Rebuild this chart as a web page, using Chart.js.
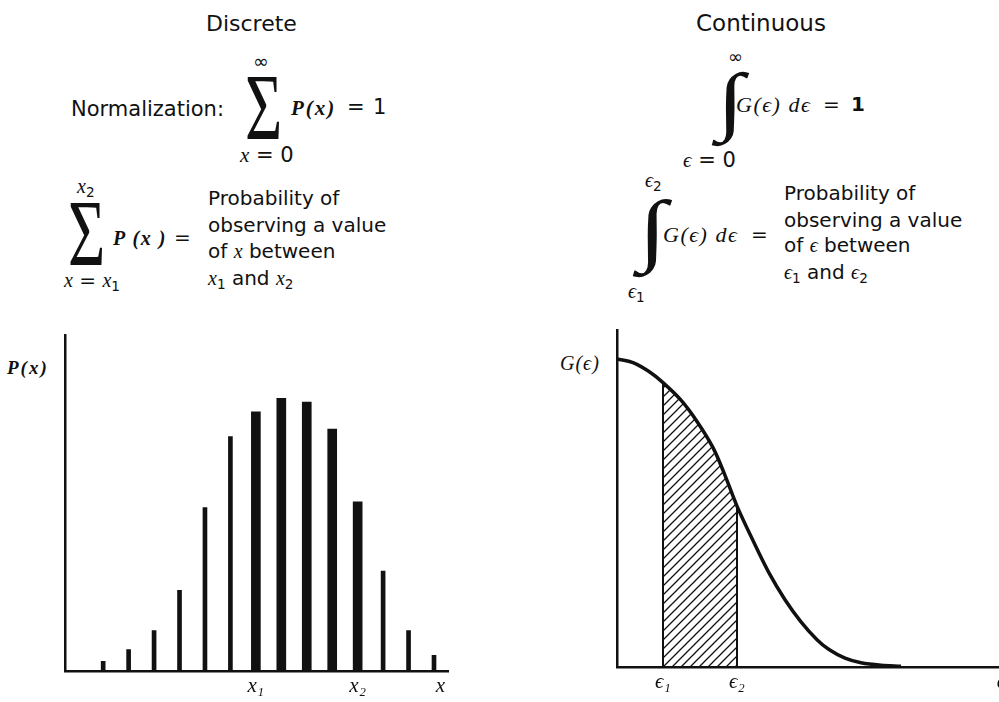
<!DOCTYPE html>
<html>
<head>
<meta charset="utf-8">
<title>Discrete and continuous distributions</title>
<script src="https://cdn.jsdelivr.net/npm/chart.js@4.4.1/dist/chart.umd.min.js"></script>
<style>
html, body { margin: 0; padding: 0; background: #fff; }
body { position: relative; width: 999px; height: 702px; overflow: hidden; font-family: "DejaVu Sans", sans-serif; color: #111; }
.t { position: absolute; white-space: nowrap; line-height: 1; font-size: 20px; }
.m { font-family: "Liberation Serif", "DejaVu Serif", serif; font-style: italic; }
.b { font-weight: bold; }
.sub { font-family: "DejaVu Sans", sans-serif; font-style: normal; font-weight: normal; font-size: 0.68em; position: relative; top: 0.3em; letter-spacing: 0; }
.sigma { font-family: "Liberation Serif", serif; font-size: 64px; transform: scaleY(1.5); transform-origin: 0 0; }
.integral { font-family: "Liberation Serif", serif; font-style: italic; font-weight: bold; transform: scaleX(1.3); transform-origin: 0 0; }
#left-box { position: absolute; left: 0; top: 325px; width: 470px; height: 377px; }
#right-box { position: absolute; left: 560px; top: 320px; width: 460px; height: 382px; }
</style>
</head>
<body>

<!-- 왼쪽: 이산 분포 -->
<div class="t" style="left:206px; top:13px; font-size:22px;">Discrete</div>
<div class="t" style="left:71px; top:99px; font-size:21px;">Normalization:</div>
<div class="t" style="left:253px; top:52px; font-size:19px;">∞</div>
<div class="t sigma" style="left:245px; top:60px;">Σ</div>
<div class="t m b" style="left:291px; top:98px; font-size:21px; letter-spacing:2px;">P(x)</div>
<div class="t" style="left:347px; top:97px; font-size:21px;">=</div>
<div class="t" style="left:373px; top:97px; font-size:21px;">1</div>
<div class="t" style="left:240px; top:145px; font-size:21px;"><span class="m">x</span> = 0</div>

<div class="t m" style="left:77px; top:176px;">x<span class="sub">2</span></div>
<div class="t sigma" style="left:68px; top:186px;">Σ</div>
<div class="t m b" style="left:113px; top:228px; letter-spacing:1.5px;">P (x )</div>
<div class="t" style="left:174px; top:227px;">=</div>
<div class="t" style="left:64px; top:270px;"><span class="m">x</span> = <span class="m">x</span><span class="sub">1</span></div>
<div class="t" style="left:208px; top:188px;">Probability of</div>
<div class="t" style="left:208px; top:215px;">observing a value</div>
<div class="t" style="left:208px; top:241px;">of <span class="m">x</span> between</div>
<div class="t" style="left:208px; top:268px;"><span class="m">x</span><span class="sub">1</span> and <span class="m">x</span><span class="sub">2</span></div>

<!-- 오른쪽: 연속 분포 -->
<div class="t" style="left:696px; top:12px; font-size:23px;">Continuous</div>
<div class="t" style="left:728px; top:48px; font-size:18px;">∞</div>
<div class="t integral" style="left:716px; top:62px; font-size:76px;">∫</div>
<div class="t m" style="left:736px; top:94px; font-size:22px; letter-spacing:1.5px;">G(ϵ) dϵ</div>
<div class="t" style="left:823px; top:94px;">=</div>
<div class="t b" style="left:851px; top:94px;">1</div>
<div class="t" style="left:683px; top:150px; font-size:21px;"><span class="m">ϵ</span> = 0</div>

<div class="t m" style="left:645px; top:170px;">ϵ<span class="sub">2</span></div>
<div class="t integral" style="left:637px; top:189px; font-size:80px;">∫</div>
<div class="t m" style="left:663px; top:224px; font-size:22px; letter-spacing:1.5px;">G(ϵ) dϵ</div>
<div class="t" style="left:751px; top:224px;">=</div>
<div class="t m" style="left:628px; top:281px;">ϵ<span class="sub">1</span></div>
<div class="t" style="left:784px; top:183px;">Probability of</div>
<div class="t" style="left:784px; top:210px;">observing a value</div>
<div class="t" style="left:784px; top:235px;">of <span class="m">ϵ</span> between</div>
<div class="t" style="left:784px; top:262px;"><span class="m">ϵ</span><span class="sub">1</span> and <span class="m">ϵ</span><span class="sub">2</span></div>

<!-- 축 이름 -->
<div class="t m b" style="left:7px; top:358px; font-size:19px; letter-spacing:2px;">P(x)</div>
<div class="t m" style="left:560px; top:353px; letter-spacing:1px;">G(ϵ)</div>

<div id="left-box"><canvas id="discrete-chart" width="470" height="377"></canvas></div>
<div id="right-box"><canvas id="continuous-chart" width="460" height="382"></canvas></div>

<script>
// 이산 분포: 막대 위치(x)와 확률 P(x)
const xPositions = [1, 2, 3, 4, 5, 6, 7, 8, 9, 10, 11, 12, 13, 14];
const pValues = [0.005, 0.011, 0.021, 0.042, 0.085, 0.122, 0.135, 0.142, 0.140, 0.126, 0.088, 0.052, 0.021, 0.008];
const x1 = 7;
const x2 = 11;
const xTickValues = [7, 11, 14.25];
const xTickLabels = ['x₁', 'x₂', 'x'];

// 연속 분포: ε 값과 G(ε)
const epsValues = [0, 0.4, 0.8, 1.15, 1.6, 2.0, 2.4, 2.7, 3.0, 3.4, 3.8, 4.2, 4.6, 5.0, 5.3, 5.7, 6.1, 6.6, 7.1];
const gValues = [1.000, 0.988, 0.959, 0.923, 0.866, 0.797, 0.712, 0.622, 0.522, 0.410, 0.305, 0.218, 0.146, 0.088, 0.056, 0.028, 0.013, 0.005, 0.002];
const eps1 = 1.15;
const eps2 = 3.0;
const epsTickValues = [1.15, 3.0, 9.6];
const epsTickLabels = ['ϵ₁', 'ϵ₂', 'ϵ'];

const ink = '#111';
const tickFont = { family: 'Liberation Serif', style: 'italic', size: 21 };

// 공통 축 설정
function plainAxis(extra) {
    return Object.assign({
        offset: false,
        grid: { display: false, drawTicks: false },
        border: { display: true, color: ink, width: 2.5 },
        ticks: { display: false }
    }, extra);
}

function tickAxis(values, labels, extra) {
    return plainAxis(Object.assign({
        type: 'linear',
        afterBuildTicks: function(scale) {
            scale.ticks = values.map(v => ({ value: v }));
        },
        ticks: {
            display: true,
            autoSkip: false,
            maxRotation: 0,
            color: ink,
            font: tickFont,
            padding: 3,
            callback: function(value, index) {
                return labels[index];
            }
        }
    }, extra));
}

// 막대: x1~x2 구간은 굵게
const thinBars = [];
const thickBars = [];
xPositions.forEach((x, i) => {
    const point = { x: x, y: pValues[i] };
    if (x >= x1 && x <= x2) {
        thickBars.push(point);
    } else {
        thinBars.push(point);
    }
});

new Chart(document.getElementById('discrete-chart'), {
    type: 'bar',
    data: {
        datasets: [
            { data: thinBars, backgroundColor: ink, barThickness: 4, grouped: false },
            { data: thickBars, backgroundColor: ink, barThickness: 9, grouped: false }
        ]
    },
    options: {
        responsive: false,
        animation: false,
        layout: { padding: { left: 65, right: 22, top: 10, bottom: 0 } },
        plugins: { legend: { display: false }, tooltip: { enabled: false } },
        scales: {
            x: tickAxis(xTickValues, xTickLabels, { min: -0.5, max: 14.55 }),
            y: plainAxis({ min: 0, max: 0.175 })
        }
    }
});

// 빗금 패턴
function hatchPattern(ctx) {
    const tile = document.createElement('canvas');
    tile.width = 9;
    tile.height = 9;
    const g = tile.getContext('2d');
    g.strokeStyle = ink;
    g.lineWidth = 1.3;
    g.beginPath();
    g.moveTo(0, 9); g.lineTo(9, 0);
    g.moveTo(-1, 1); g.lineTo(1, -1);
    g.moveTo(8, 10); g.lineTo(10, 8);
    g.stroke();
    return ctx.createPattern(tile, 'repeat');
}

const curve = epsValues.map((e, i) => ({ x: e, y: gValues[i] }));
const shaded = curve.filter(p => p.x >= eps1 && p.x <= eps2);
const g1 = gValues[epsValues.indexOf(eps1)];
const g2 = gValues[epsValues.indexOf(eps2)];

const contCanvas = document.getElementById('continuous-chart');

new Chart(contCanvas, {
    type: 'line',
    data: {
        datasets: [
            { data: curve, borderColor: ink, borderWidth: 3.5, pointRadius: 0, tension: 0.35, fill: false },
            { data: [{ x: eps1, y: 0 }, { x: eps1, y: g1 }], borderColor: ink, borderWidth: 2, pointRadius: 0, fill: false },
            { data: [{ x: eps2, y: 0 }, { x: eps2, y: g2 }], borderColor: ink, borderWidth: 2, pointRadius: 0, fill: false },
            { data: shaded, borderWidth: 0, pointRadius: 0, tension: 0.35, fill: 'origin', backgroundColor: hatchPattern(contCanvas.getContext('2d')) }
        ]
    },
    options: {
        responsive: false,
        animation: false,
        layout: { padding: { left: 57, right: 3, top: 10, bottom: 4 } },
        plugins: { legend: { display: false }, tooltip: { enabled: false } },
        scales: {
            x: tickAxis(epsTickValues, epsTickLabels, { min: 0, max: 10 }),
            y: plainAxis({ min: 0, max: 1.094 })
        }
    }
});
</script>
</body>
</html>
